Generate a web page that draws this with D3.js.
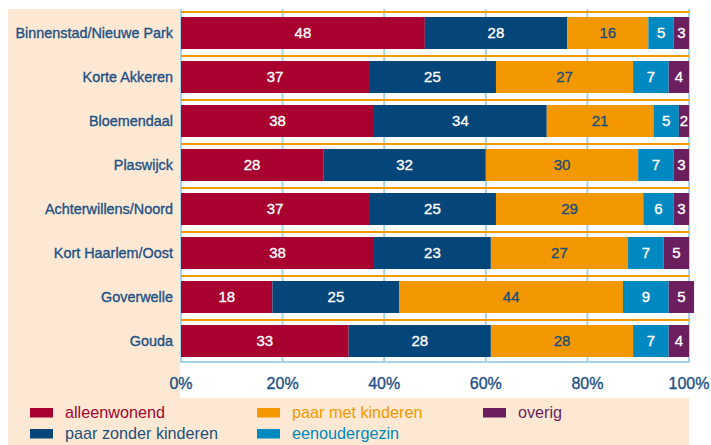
<!DOCTYPE html>
<html>
<head>
<meta charset="utf-8">
<script src="https://cdn.jsdelivr.net/npm/d3@7"></script>
<style>
  body { margin: 0; background: #fff; }
  svg { display: block; font-family: "Liberation Sans", Arial, sans-serif; }
</style>
</head>
<body>
<div id="chart"></div>
<script>
// Neighbourhoods (top to bottom)
var wijken = ["Binnenstad/Nieuwe Park", "Korte Akkeren", "Bloemendaal", "Plaswijck",
              "Achterwillens/Noord", "Kort Haarlem/Oost", "Goverwelle", "Gouda"];

// Household types, in stack order
var types = ["alleenwonend", "paar zonder kinderen", "paar met kinderen", "eenoudergezin", "overig"];

// Percentages per type, one value per neighbourhood
var alleenwonend      = [48, 37, 38, 28, 37, 38, 18, 33];
var paarZonderKind    = [28, 25, 34, 32, 25, 23, 25, 28];
var paarMetKind       = [16, 27, 21, 30, 29, 27, 44, 28];
var eenoudergezin     = [5, 7, 5, 7, 6, 7, 9, 7];
var overig            = [3, 4, 2, 3, 3, 5, 5, 4];

var tickValues = [0, 20, 40, 60, 80, 100];

var colors = ["#a8002f", "#04457a", "#f39800", "#0089c0", "#6c1f5e"];
var textColors = ["#fff", "#fff", "#1d4f7c", "#fff", "#fff"];
var labelBlue = "#1d5185";
var gridBlue = "#a5d4e7";
var peach = "#fde9d3";

var width = 711, height = 445;

// build rows for d3.stack
var rows = wijken.map(function (w, i) {
    return {
        wijk: w,
        "alleenwonend": alleenwonend[i],
        "paar zonder kinderen": paarZonderKind[i],
        "paar met kinderen": paarMetKind[i],
        "eenoudergezin": eenoudergezin[i],
        "overig": overig[i]
    };
});

var series = d3.stack().keys(types)(rows);

var svg = d3.select("#chart")
    .append("svg")
    .attr("width", width)
    .attr("height", height);

// peach panels: left label column and legend strip
svg.append("rect")
    .attr("x", 8).attr("y", 9)
    .attr("width", 172).attr("height", height - 9)
    .attr("fill", peach);
svg.append("rect")
    .attr("x", 8).attr("y", 398)
    .attr("width", 681).attr("height", height - 398)
    .attr("fill", peach);

var x = d3.scaleLinear()
    .domain([0, 100])
    .range([181, 689]);

var y = d3.scaleBand()
    .domain(wijken)
    .range([11, 363])
    .paddingInner(12 / 44)
    .paddingOuter(6 / 44);

// vertical gridlines
svg.append("g")
    .selectAll("line")
    .data(tickValues)
    .join("line")
      .attr("x1", d => x(d))
      .attr("x2", d => x(d))
      .attr("y1", 9)
      .attr("y2", 363)
      .attr("stroke", gridBlue)
      .attr("stroke-width", 2);

// bottom axis line
svg.append("line")
    .attr("x1", x(0) - 1)
    .attr("x2", x(100) + 1)
    .attr("y1", 362)
    .attr("y2", 362)
    .attr("stroke", gridBlue)
    .attr("stroke-width", 2);

// orange separator above each bar
svg.append("g")
    .selectAll("line")
    .data(wijken)
    .join("line")
      .attr("x1", x(0))
      .attr("x2", x(100))
      .attr("y1", d => y(d) - 5)
      .attr("y2", d => y(d) - 5)
      .attr("stroke", "#f39800")
      .attr("stroke-width", 1.8);

// the bars
var layer = svg.append("g")
    .selectAll("g")
    .data(series)
    .join("g")
      .attr("fill", (d, i) => colors[i]);

layer.selectAll("rect")
    .data(d => d)
    .join("rect")
      .attr("x", d => x(d[0]))
      .attr("y", d => y(d.data.wijk))
      .attr("width", d => x(d[1]) - x(d[0]))
      .attr("height", y.bandwidth());

// value labels
svg.append("g")
    .selectAll("g")
    .data(series)
    .join("g")
      .attr("fill", (d, i) => textColors[i])
      .attr("stroke", (d, i) => textColors[i])
      .attr("stroke-width", 0.35)
    .selectAll("text")
    .data(d => d)
    .join("text")
      .attr("x", d => (x(d[0]) + x(d[1])) / 2)
      .attr("y", d => y(d.data.wijk) + y.bandwidth() / 2)
      .attr("dy", "0.36em")
      .attr("text-anchor", "middle")
      .attr("font-size", 15)
      .text(d => d[1] - d[0]);

// category labels
svg.append("g")
    .selectAll("text")
    .data(wijken)
    .join("text")
      .attr("x", 173)
      .attr("y", d => y(d) + y.bandwidth() / 2)
      .attr("dy", "0.36em")
      .attr("text-anchor", "end")
      .attr("font-size", 14.4)
      .attr("fill", labelBlue)
      .attr("stroke", labelBlue)
      .attr("stroke-width", 0.35)
      .text(d => d);

// tick labels
svg.append("g")
    .selectAll("text")
    .data(tickValues)
    .join("text")
      .attr("x", d => x(d))
      .attr("y", 389)
      .attr("text-anchor", "middle")
      .attr("font-size", 16)
      .attr("fill", labelBlue)
      .attr("stroke", labelBlue)
      .attr("stroke-width", 0.35)
      .text(d => d + "%");

// legend
var legendPos = [[30, 0], [30, 1], [257, 0], [257, 1], [483, 0]];
var legend = svg.append("g")
    .selectAll("g")
    .data(types)
    .join("g")
      .attr("transform", (d, i) => `translate(${legendPos[i][0]},${408 + legendPos[i][1] * 21})`);
legend.append("rect")
    .attr("width", 23)
    .attr("height", 9.5)
    .attr("fill", (d, i) => colors[i]);
legend.append("text")
    .attr("x", 35)
    .attr("y", 10)
    .attr("font-size", 16.2)
    .attr("fill", (d, i) => i == 1 ? "#1d4f7c" : colors[i])
    .text(d => d);
</script>
</body>
</html>
